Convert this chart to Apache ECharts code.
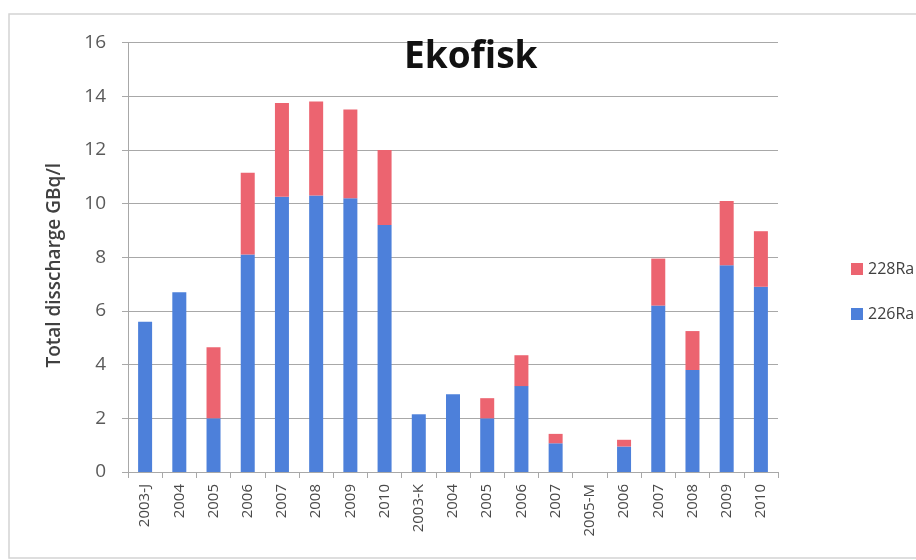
<!DOCTYPE html>
<html>
<head>
<meta charset="utf-8">
<title>Ekofisk</title>
<script src="https://cdn.jsdelivr.net/npm/echarts@6/dist/echarts.min.js"></script>
<style>
  html, body { margin: 0; padding: 0; background: #ffffff; }
  #chart { width: 916px; height: 560px; }
</style>
</head>
<body>
<div id="chart"></div>
<script>
// Discharge per field and year (GBq/l)
const categories = ['2003-J', '2004', '2005', '2006', '2007', '2008', '2009', '2010',
                    '2003-K', '2004', '2005', '2006', '2007',
                    '2005-M', '2006', '2007', '2008', '2009', '2010'];
const ra226 = [5.6, 6.7, 2.0, 8.1, 10.25, 10.3, 10.2, 9.2,
               2.15, 2.9, 2.0, 3.2, 1.07,
               null, 0.95, 6.2, 3.8, 7.7, 6.9];
const ra228 = [0, 0, 2.65, 3.05, 3.5, 3.5, 3.3, 2.8,
               0, 0, 0.75, 1.15, 0.35,
               null, 0.25, 1.75, 1.45, 2.4, 2.07];
const yTicks = { min: 0, max: 16, interval: 2 };

const BLUE = '#4d80da';
const RED = '#ec6470';
const FONT = '"Open Sans", "Noto Sans", sans-serif';

const chart = echarts.init(document.getElementById('chart'), null, { renderer: 'canvas' });

chart.setOption({
  backgroundColor: '#ffffff',
  animation: false,
  graphic: [{
    type: 'rect',
    shape: { x: 9, y: 14, width: 920, height: 544 },
    style: { fill: 'none', stroke: '#d4d4d4', lineWidth: 1.5 },
    silent: true,
    z: -1
  }],
  title: {
    text: 'Ekofisk',
    left: 399,
    top: 34,
    textStyle: { fontFamily: FONT, fontSize: 37, fontWeight: 'bold', color: '#111111' }
  },
  legend: {
    orient: 'vertical',
    left: 846,
    top: 256,
    itemWidth: 12,
    itemHeight: 12,
    itemGap: 29,
    itemStyle: { borderWidth: 0 },
    icon: 'rect',
    data: ['228Ra', '226Ra'],
    textStyle: { fontFamily: FONT, fontSize: 16, color: '#404040' }
  },
  grid: { left: 128, right: 138, top: 42.5, bottom: 88, containLabel: false },
  xAxis: {
    type: 'category',
    data: categories,
    axisLine: { show: true, lineStyle: { color: '#a8a8a8', width: 1 } },
    axisTick: { show: true, interval: 0, length: 6, lineStyle: { color: '#a8a8a8' } },
    axisLabel: {
      interval: 0,
      rotate: 90,
      margin: 12,
      fontFamily: FONT,
      fontSize: 15,
      color: '#4a4a4a'
    }
  },
  yAxis: {
    type: 'value',
    min: yTicks.min,
    max: yTicks.max,
    interval: yTicks.interval,
    name: 'Total disscharge GBq/l',
    nameLocation: 'middle',
    nameRotate: 90,
    nameGap: 64,
    nameTextStyle: {
      fontFamily: FONT, fontSize: 19, fontWeight: 600, color: '#404040',
      padding: [0, 16, 0, 0]
    },
    axisLine: { show: true, lineStyle: { color: '#a8a8a8', width: 1 } },
    axisTick: { show: true, inside: false, length: 6, lineStyle: { color: '#a8a8a8' } },
    axisLabel: { margin: 22, fontFamily: FONT, fontSize: 19, color: '#5a5a5a' },
    splitLine: { show: true, lineStyle: { color: '#a8a8a8', width: 1 } }
  },
  series: [
    {
      name: '226Ra',
      type: 'bar',
      stack: 'total',
      barWidth: 14,
      itemStyle: { color: BLUE },
      data: ra226
    },
    {
      name: '228Ra',
      type: 'bar',
      stack: 'total',
      barWidth: 14,
      itemStyle: { color: RED },
      data: ra228
    }
  ]
});
</script>
</body>
</html>
